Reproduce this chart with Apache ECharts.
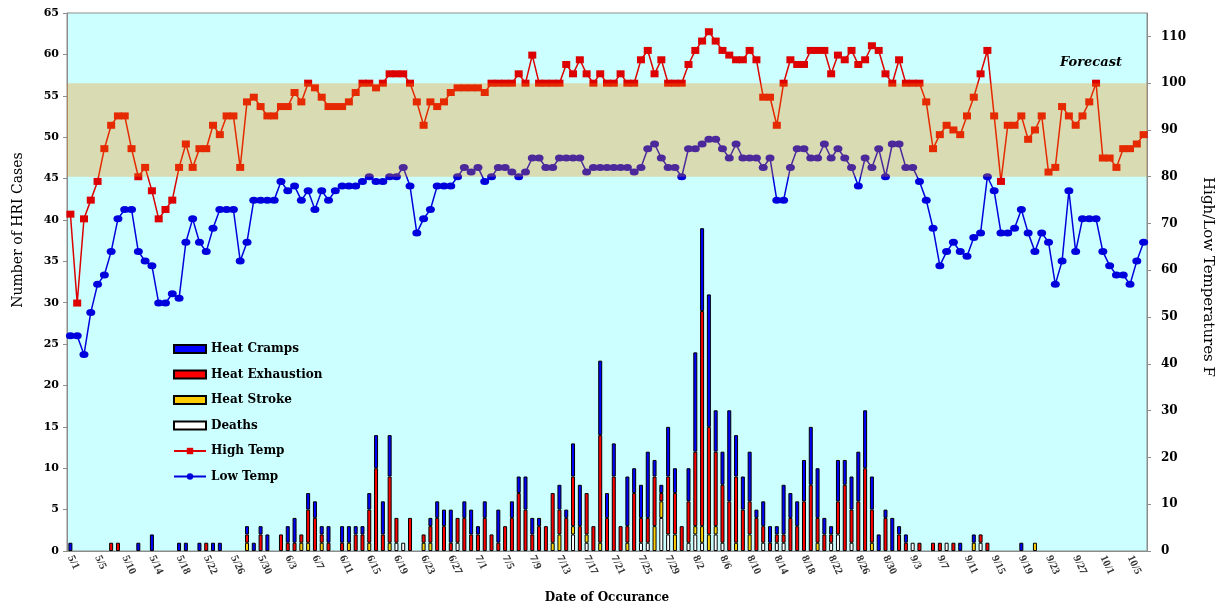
<!DOCTYPE html>
<html lang="en" style="height: 100%">
<head>
  <meta charset="utf-8">
</head>
<body style="height: 100%; margin: 0; background: #ffffff">
  <div id="container" style="width: 1224px; height: 609px"></div>

  <script type="text/javascript" src="https://cdn.jsdelivr.net/npm/echarts@6/dist/echarts.min.js"></script>
  <script type="text/javascript">

// one category per day, 5/1 .. 10/7 (one May day is missing from the source)
const skippedDay = '5/7';
const monthDays = [[5, 31], [6, 30], [7, 31], [8, 31], [9, 30], [10, 7]];
const dayLabels = [];
monthDays.forEach(function (md) {
  for (let d = 1; d <= md[1]; d++) {
    const s = md[0] + '/' + d;
    if (s !== skippedDay) dayLabels.push(s);
  }
});

// daily high / low temperatures (F)
const highTemp = [
  72, 53, 71, 75, 79, 86, 91, 93, 93, 86, 80, 82, 77, 71, 73, 75, 82, 87, 82, 86,
  86, 91, 89, 93, 93, 82, 96, 97, 95, 93, 93, 95, 95, 98, 96, 100, 99, 97, 95, 95,
  95, 96, 98, 100, 100, 99, 100, 102, 102, 102, 100, 96, 91, 96, 95, 96, 98, 99, 99, 99,
  99, 98, 100, 100, 100, 100, 102, 100, 106, 100, 100, 100, 100, 104, 102, 105, 102, 100, 102, 100,
  100, 102, 100, 100, 105, 107, 102, 105, 100, 100, 100, 104, 107, 109, 111, 109, 107, 106, 105, 105,
  107, 105, 97, 97, 91, 100, 105, 104, 104, 107, 107, 107, 102, 106, 105, 107, 104, 105, 108, 107,
  102, 100, 105, 100, 100, 100, 96, 86, 89, 91, 90, 89, 93, 97, 102, 107, 93, 79, 91, 91,
  93, 88, 90, 93, 81, 82, 95, 93, 91, 93, 96, 100, 84, 84, 82, 86, 86, 87, 89
];
const lowTemp = [
  46, 46, 42, 51, 57, 59, 64, 71, 73, 73, 64, 62, 61, 53, 53, 55, 54, 66, 71, 66,
  64, 69, 73, 73, 73, 62, 66, 75, 75, 75, 75, 79, 77, 78, 75, 77, 73, 77, 75, 77,
  78, 78, 78, 79, 80, 79, 79, 80, 80, 82, 78, 68, 71, 73, 78, 78, 78, 80, 82, 81,
  82, 79, 80, 82, 82, 81, 80, 81, 84, 84, 82, 82, 84, 84, 84, 84, 81, 82, 82, 82,
  82, 82, 82, 81, 82, 86, 87, 84, 82, 82, 80, 86, 86, 87, 88, 88, 86, 84, 87, 84,
  84, 84, 82, 84, 75, 75, 82, 86, 86, 84, 84, 87, 84, 86, 84, 82, 78, 84, 82, 86,
  80, 87, 87, 82, 82, 79, 75, 69, 61, 64, 66, 64, 63, 67, 68, 80, 77, 68, 68, 69,
  73, 68, 64, 68, 66, 57, 62, 77, 64, 71, 71, 71, 64, 61, 59, 59, 57, 62, 66
];

// daily HRI cases by type
const heatCramps = [
  1, 0, 0, 0, 0, 0, 0, 0, 0, 0, 1, 0, 2, 0, 0, 0, 1, 1, 0, 1,
  0, 1, 1, 0, 0, 0, 1, 1, 1, 2, 0, 0, 2, 3, 0, 2, 2, 1, 2, 0,
  2, 2, 1, 1, 2, 4, 4, 5, 0, 0, 0, 0, 0, 1, 2, 2, 4, 0, 2, 3,
  1, 2, 0, 4, 0, 2, 2, 4, 2, 1, 0, 0, 3, 1, 4, 5, 0, 0, 9, 3,
  4, 0, 6, 3, 4, 8, 2, 1, 6, 3, 0, 4, 12, 10, 16, 5, 4, 11, 5, 4,
  6, 1, 3, 2, 1, 6, 3, 3, 5, 7, 6, 2, 1, 5, 3, 4, 6, 7, 4, 2,
  1, 4, 1, 1, 0, 0, 0, 0, 0, 0, 0, 1, 0, 1, 0, 0, 0, 0, 0, 0,
  1, 0, 0, 0, 0, 0, 0, 0, 0, 0, 0, 0, 0, 0, 0, 0, 0, 0, 0
];
const heatExhaustion = [
  0, 0, 0, 0, 0, 0, 1, 1, 0, 0, 0, 0, 0, 0, 0, 0, 0, 0, 0, 0,
  1, 0, 0, 0, 0, 0, 1, 0, 2, 0, 0, 2, 1, 1, 1, 4, 4, 1, 1, 0,
  1, 0, 2, 2, 4, 10, 2, 8, 3, 0, 4, 0, 1, 2, 4, 3, 1, 3, 4, 2,
  2, 4, 2, 1, 3, 4, 7, 5, 2, 3, 3, 6, 3, 4, 6, 3, 5, 3, 13, 4,
  9, 3, 2, 7, 3, 3, 6, 1, 7, 5, 3, 5, 9, 26, 13, 9, 7, 6, 8, 5,
  4, 4, 2, 1, 1, 1, 4, 3, 6, 8, 3, 2, 1, 4, 8, 4, 6, 10, 4, 0,
  4, 0, 2, 1, 0, 1, 0, 1, 1, 0, 1, 0, 0, 0, 1, 1, 0, 0, 0, 0,
  0, 0, 0, 0, 0, 0, 0, 0, 0, 0, 0, 0, 0, 0, 0, 0, 0, 0, 0
];
const heatStroke = [
  0, 0, 0, 0, 0, 0, 0, 0, 0, 0, 0, 0, 0, 0, 0, 0, 0, 0, 0, 0,
  0, 0, 0, 0, 0, 0, 1, 0, 0, 0, 0, 0, 0, 0, 1, 1, 0, 1, 0, 0,
  0, 1, 0, 0, 1, 0, 0, 1, 0, 0, 0, 0, 1, 1, 0, 0, 0, 0, 0, 0,
  0, 0, 0, 0, 0, 0, 0, 0, 0, 0, 0, 1, 2, 0, 1, 0, 1, 0, 1, 0,
  0, 0, 1, 0, 0, 0, 3, 2, 0, 2, 0, 0, 1, 2, 2, 1, 0, 0, 1, 0,
  2, 0, 0, 0, 0, 0, 0, 0, 0, 0, 1, 0, 0, 0, 0, 0, 0, 0, 1, 0,
  0, 0, 0, 0, 0, 0, 0, 0, 0, 0, 0, 0, 0, 1, 0, 0, 0, 0, 0, 0,
  0, 0, 1, 0, 0, 0, 0, 0, 0, 0, 0, 0, 0, 0, 0, 0, 0, 0, 0
];
const deaths = [
  0, 0, 0, 0, 0, 0, 0, 0, 0, 0, 0, 0, 0, 0, 0, 0, 0, 0, 0, 0,
  0, 0, 0, 0, 0, 0, 0, 0, 0, 0, 0, 0, 0, 0, 0, 0, 0, 0, 0, 0,
  0, 0, 0, 0, 0, 0, 0, 0, 1, 1, 0, 0, 0, 0, 0, 0, 0, 1, 0, 0,
  0, 0, 0, 0, 0, 0, 0, 0, 0, 0, 0, 0, 0, 0, 2, 0, 1, 0, 0, 0,
  0, 0, 0, 0, 1, 1, 0, 4, 2, 0, 0, 1, 2, 1, 0, 2, 1, 0, 0, 0,
  0, 0, 1, 0, 1, 1, 0, 0, 0, 0, 0, 0, 1, 2, 0, 1, 0, 0, 0, 0,
  0, 0, 0, 0, 1, 0, 0, 0, 0, 1, 0, 0, 0, 0, 1, 0, 0, 0, 0, 0,
  0, 0, 0, 0, 0, 0, 0, 0, 0, 0, 0, 0, 0, 0, 0, 0, 0, 0, 0
];

// shaded 80-100 F band
const bandRange = [80, 100];

const legendNames = ['Heat Cramps', 'Heat Exhaustion', 'Heat Stroke', 'Deaths', 'High Temp', 'Low Temp'];

var dom = document.getElementById('container');
var myChart = echarts.init(dom, null, { renderer: 'canvas' });

const serif = '"Liberation Serif", "Times New Roman", serif';
const wide = '"DejaVu Serif", serif';

function bars(name, values, color) {
  return {
    name: name,
    type: 'bar',
    stack: 'hri',
    barWidth: 4,
    itemStyle: { color: color, borderColor: '#000', borderWidth: 1 },
    data: values.map(function (v) { return v ? v : null; }),
    z: 2
  };
}

var option = {
  animation: false,
  backgroundColor: '#ffffff',
  grid: {
    left: 67, right: 77, top: 13, bottom: 48,
    show: true,
    backgroundColor: '#CCFFFF',
    borderColor: '#8c8c8c',
    borderWidth: 1
  },
  legend: {
    data: legendNames.map(function (n, i) {
      return i < 4 ? { name: n, icon: 'rect' } : { name: n };
    }),
    orient: 'vertical',
    left: 168,
    top: 338,
    itemWidth: 32,
    itemHeight: 8,
    itemGap: 13.5,
    textStyle: { fontFamily: wide, fontWeight: 'bold', fontSize: 12, color: '#000' }
  },
  xAxis: {
    type: 'category',
    data: dayLabels,
    name: 'Date of Occurance',
    nameLocation: 'middle',
    nameGap: 41,
    nameTextStyle: { fontFamily: wide, fontWeight: 'bold', fontSize: 12, color: '#000' },
    axisLine: { lineStyle: { color: '#8c8c8c' } },
    axisTick: { interval: 0, length: 3, lineStyle: { color: '#8c8c8c' } },
    axisLabel: {
      interval: 3, rotate: -65, margin: 5,
      fontFamily: serif, fontWeight: 'bold', fontSize: 11, color: '#333'
    }
  },
  yAxis: [
    {
      type: 'value', min: 0, max: 65, interval: 5, position: 'left',
      splitLine: { show: false },
      axisLine: { show: true, lineStyle: { color: '#8c8c8c' } },
      axisTick: { show: true, length: 4, lineStyle: { color: '#8c8c8c' } },
      axisLabel: { fontFamily: wide, fontWeight: 'bold', fontSize: 11, color: '#000', margin: 8 }
    },
    {
      type: 'value', min: 0, max: 115, interval: 10, position: 'right',
      splitLine: { show: false },
      axisLine: { show: true, lineStyle: { color: '#8c8c8c' } },
      axisTick: { show: true, length: 4, lineStyle: { color: '#8c8c8c' } },
      axisLabel: {
        showMaxLabel: false,
        formatter: function (v) { return v > 110 ? '' : v; },
        fontFamily: wide, fontWeight: 'bold', fontSize: 12, color: '#000', margin: 14
      }
    }
  ],
  graphic: [
    {
      type: 'text', x: 18, y: 230, rotation: Math.PI / 2,
      style: { text: 'Number of HRI Cases', font: '14px "DejaVu Serif"', fill: '#000', align: 'center', verticalAlign: 'middle' }
    },
    {
      type: 'text', x: 1208, y: 277, rotation: -Math.PI / 2,
      style: { text: 'High/Low Temperatures F', font: '15px "DejaVu Serif"', fill: '#000', align: 'center', verticalAlign: 'middle' }
    },
    {
      type: 'text', x: 1091, y: 63,
      style: { text: 'Forecast', font: 'italic bold 13px "DejaVu Serif"', fill: '#000', align: 'center', verticalAlign: 'middle' }
    }
  ],
  series: [
    bars('Deaths', deaths, '#FFFFFF'),
    bars('Heat Stroke', heatStroke, '#FFCC00'),
    bars('Heat Exhaustion', heatExhaustion, '#FF0000'),
    bars('Heat Cramps', heatCramps, '#0000FF'),
    {
      name: 'High Temp',
      type: 'line',
      yAxisIndex: 1,
      symbol: 'rect',
      symbolSize: [8, 7],
      showAllSymbol: true,
      itemStyle: { color: '#DD0000' },
      lineStyle: { color: '#DD0000', width: 1.5 },
      data: highTemp,
      z: 3
    },
    {
      name: 'Low Temp',
      type: 'line',
      yAxisIndex: 1,
      symbol: 'circle',
      symbolSize: [9, 7],
      showAllSymbol: true,
      itemStyle: { color: '#0000DD' },
      lineStyle: { color: '#0000DD', width: 1.5 },
      data: lowTemp,
      z: 3
    },
    {
      name: 'band',
      type: 'line',
      yAxisIndex: 1,
      data: [],
      z: 10,
      markArea: {
        silent: true,
        z: 10,
        itemStyle: { color: 'rgba(247,137,0,0.3)' },
        data: [[{ yAxis: bandRange[0] }, { yAxis: bandRange[1] }]]
      }
    }
  ]
};

myChart.setOption(option);
window.addEventListener('resize', myChart.resize);
  </script>
</body>
</html>
